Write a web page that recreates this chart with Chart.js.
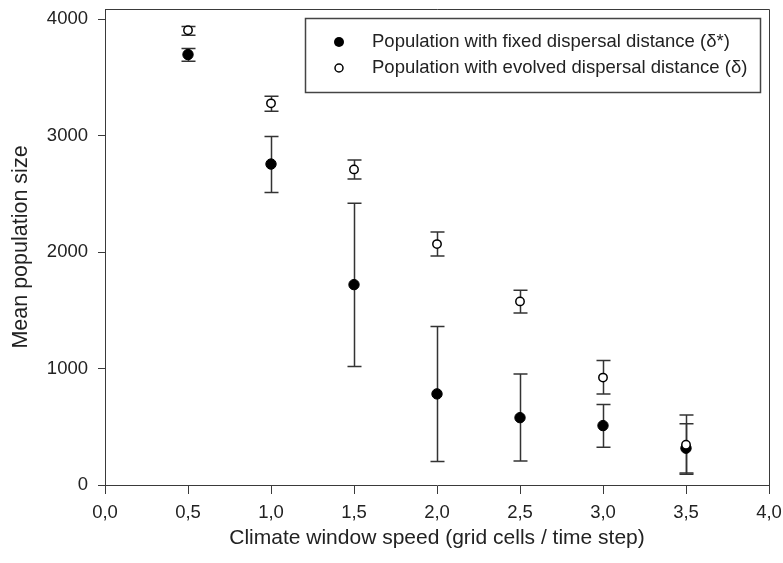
<!DOCTYPE html>
<html>
<head>
<meta charset="utf-8">
<script src="https://cdn.jsdelivr.net/npm/chart.js@4/dist/chart.umd.min.js"></script>
<style>
  html, body { margin: 0; padding: 0; background: #fff; }
  #wrap { width: 783px; height: 563px; }
</style>
</head>
<body>
<div id="wrap"><canvas id="popChart" width="783" height="563"></canvas></div>
<script>
// 기후 창 이동 속도 (x 값)
const speeds = [0.5, 1.0, 1.5, 2.0, 2.5, 3.0, 3.5];

// 고정 분산 거리 집단 (δ*)
const fixedMean  = [3695, 2755, 1720, 782, 578, 510, 316];
const fixedUpper = [3748, 2992, 2418, 1361, 952, 690, 525];
const fixedLower = [3638, 2510, 1018, 202, 206, 323, 104];

// 진화된 분산 거리 집단 (δ)
const evolvedMean  = [3903, 3276, 2709, 2068, 1576, 922, 345];
const evolvedUpper = [3936, 3338, 2789, 2171, 1672, 1068, 600];
const evolvedLower = [3860, 3208, 2626, 1966, 1477, 782, 92];

// 축 눈금
const xTicks = [0, 0.5, 1.0, 1.5, 2.0, 2.5, 3.0, 3.5, 4.0];
const yTicks = [0, 1000, 2000, 3000, 4000];

const legendLabels = [
  'Population with fixed dispersal distance (δ*)',
  'Population with evolved dispersal distance (δ)'
];

const FONT = '"Liberation Sans", Arial, sans-serif';
const INK = '#222';
const AXIS = '#3a3a3a';

function toPoints(mean, lo, hi) {
  return speeds.map((s, i) => ({ x: s, y: mean[i], yMin: lo[i], yMax: hi[i] }));
}

// 오차 막대 (점 아래에 그림)
const errorBars = {
  id: 'errorBars',
  beforeDatasetsDraw(chart) {
    const { ctx, scales: { x, y } } = chart;
    ctx.save();
    ctx.strokeStyle = '#333';
    ctx.lineWidth = 1.5;
    chart.data.datasets.forEach(ds => {
      ds.data.forEach(p => {
        const px = Math.round(x.getPixelForValue(p.x)) + 0.5;
        const top = y.getPixelForValue(p.yMax);
        const bot = y.getPixelForValue(p.yMin);
        ctx.beginPath();
        ctx.moveTo(px, top); ctx.lineTo(px, bot);
        ctx.moveTo(px - 7, top); ctx.lineTo(px + 7, top);
        ctx.moveTo(px - 7, bot); ctx.lineTo(px + 7, bot);
        ctx.stroke();
      });
    });
    ctx.restore();
  }
};

// 위/오른쪽 테두리와 범례 상자
const frameAndLegend = {
  id: 'frameAndLegend',
  afterDraw(chart) {
    const { ctx, chartArea: a } = chart;
    ctx.save();
    ctx.strokeStyle = AXIS;
    ctx.lineWidth = 1;
    ctx.beginPath();
    ctx.moveTo(a.left, a.top + 0.5); ctx.lineTo(a.right + 0.5, a.top + 0.5);
    ctx.lineTo(a.right + 0.5, a.bottom);
    ctx.stroke();

    // 범례
    const bx = a.right - 464, by = a.top + 9, bw = 455, bh = 74;
    ctx.strokeStyle = '#444';
    ctx.lineWidth = 1.5;
    ctx.strokeRect(bx + 0.5, by + 0.5, bw, bh);

    const rows = [by + 24, by + 50];
    const mx = bx + 34;
    ctx.fillStyle = '#000';
    ctx.beginPath(); ctx.arc(mx, rows[0], 5, 0, Math.PI * 2); ctx.fill();
    ctx.fillStyle = '#fff';
    ctx.strokeStyle = '#000';
    ctx.lineWidth = 1.5;
    ctx.beginPath(); ctx.arc(mx, rows[1], 4, 0, Math.PI * 2); ctx.fill(); ctx.stroke();

    ctx.fillStyle = INK;
    ctx.font = '18.5px ' + FONT;
    ctx.textBaseline = 'middle';
    ctx.textAlign = 'left';
    legendLabels.forEach((t, i) => ctx.fillText(t, bx + 67, rows[i]));
    ctx.restore();
  }
};

const ctx = document.getElementById('popChart').getContext('2d');
new Chart(ctx, {
  type: 'scatter',
  data: {
    datasets: [
      {
        label: legendLabels[0],
        data: toPoints(fixedMean, fixedLower, fixedUpper),
        pointRadius: 5.2,
        pointHoverRadius: 5.2,
        pointBackgroundColor: '#000',
        pointBorderColor: '#000',
        pointBorderWidth: 1,
        order: 1
      },
      {
        label: legendLabels[1],
        data: toPoints(evolvedMean, evolvedLower, evolvedUpper),
        pointRadius: 4.2,
        pointHoverRadius: 4.2,
        pointBackgroundColor: '#fff',
        pointBorderColor: '#000',
        pointBorderWidth: 1.5,
        order: 0
      }
    ]
  },
  options: {
    responsive: false,
    animation: false,
    layout: { padding: { top: 9, right: 14, left: 0, bottom: 0 } },
    plugins: {
      legend: { display: false },
      tooltip: { enabled: false }
    },
    scales: {
      x: {
        type: 'linear',
        min: 0,
        max: 4,
        afterFit(scale) {
          scale.height = 78;
          scale.paddingLeft = 0;
          scale.paddingRight = 0;
        },
        afterBuildTicks(axis) { axis.ticks = xTicks.map(v => ({ value: v })); },
        border: { display: true, color: AXIS, width: 1 },
        grid: { drawOnChartArea: false, drawTicks: true, tickLength: 9, color: AXIS },
        ticks: {
          padding: 8,
          color: INK,
          font: { family: FONT, size: 18.5 },
          callback: v => v.toFixed(1).replace('.', ',')
        },
        title: {
          display: true,
          text: 'Climate window speed (grid cells / time step)',
          color: INK,
          font: { family: FONT, size: 21 },
          padding: { top: 0, bottom: 12 }
        }
      },
      y: {
        type: 'linear',
        min: 0,
        max: 4086,
        afterFit(scale) {
          scale.width = 105;
          scale.paddingTop = 0;
          scale.paddingBottom = 0;
        },
        afterBuildTicks(axis) { axis.ticks = yTicks.map(v => ({ value: v })); },
        border: { display: true, color: AXIS, width: 1 },
        grid: { drawOnChartArea: false, drawTicks: true, tickLength: 7, color: AXIS },
        ticks: {
          padding: 10,
          color: INK,
          font: { family: FONT, size: 18.5, lineHeight: 1 },
          callback: v => String(v)
        },
        title: {
          display: true,
          text: 'Mean population size',
          color: INK,
          font: { family: FONT, size: 21.5 },
          padding: { top: 8, bottom: 0 }
        }
      }
    }
  },
  plugins: [errorBars, frameAndLegend]
});
</script>
</body>
</html>
